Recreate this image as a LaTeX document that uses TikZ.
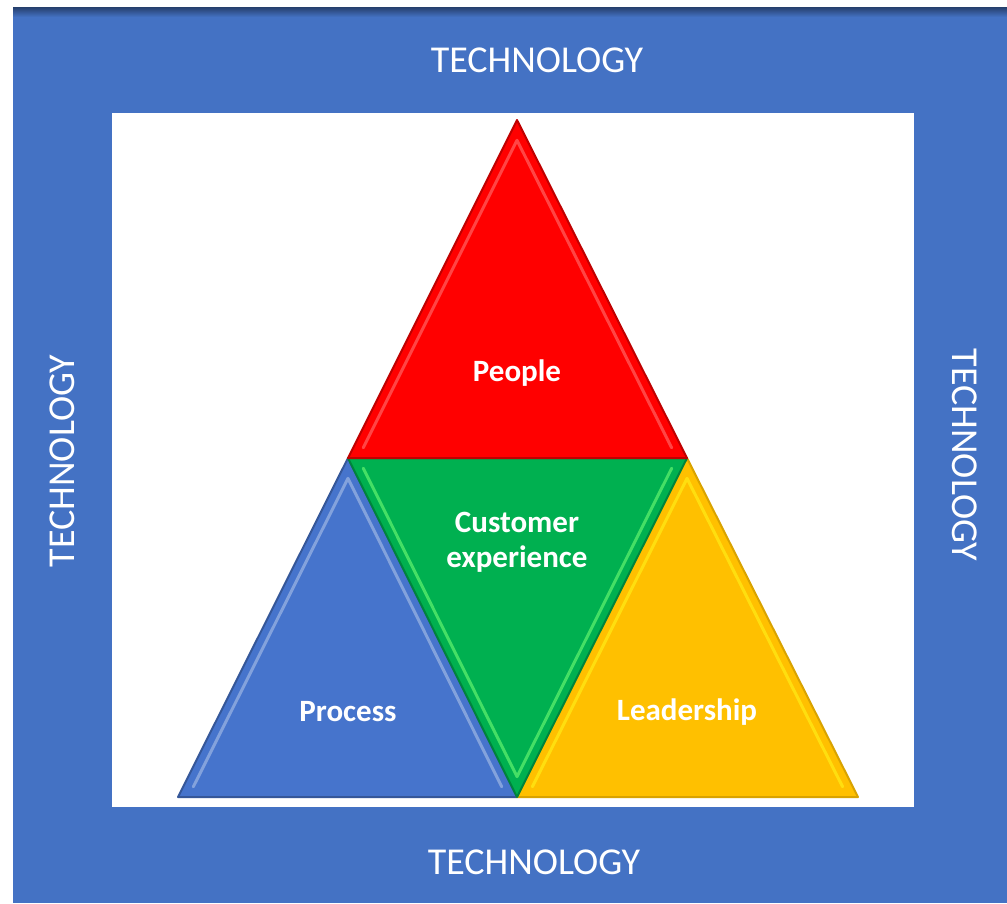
\documentclass[tikz,border=0pt]{standalone}
\usepackage{fontspec}
\setmainfont{Carlito}
\usetikzlibrary{calc}
\definecolor{frameblue}{HTML}{4472C4}
\definecolor{pplred}{HTML}{FF0000}
\definecolor{cxgreen}{HTML}{00B050}
\definecolor{procblue}{HTML}{4674CC}
\definecolor{leadyellow}{HTML}{FFC000}
\tikzstyle{tech} = [text=white, inner sep=0pt, font=\fontsize{38}{38}\selectfont]
\tikzstyle{facet} = [text=white, align=center, inner sep=0pt, font=\bfseries\fontsize{31}{35}\selectfont]
\tikzstyle{rim} = [line width=2pt, line join=round]
\tikzstyle{gleam} = [line width=3pt, line join=round, line cap=round, opacity=.6]

\begin{document}
\begin{tikzpicture}[x=1pt,y=-1pt]
\useasboundingbox (0,0) rectangle (1007,903);
\fill[frameblue] (13,7) rectangle (1007,903);
\shade[top color=frameblue!55!black, bottom color=frameblue] (13,7) rectangle (1007,17);
\fill[white] (112,113) rectangle (914,807);

\coordinate (top) at (517,120);
\coordinate (ml) at (348,458);
\coordinate (mr) at (687,458);
\coordinate (bl) at (178,797);
\coordinate (bm) at (517,797);
\coordinate (br) at (858,797);

% process
\coordinate (cb) at (barycentric cs:ml=1,bl=1,bm=1);
\fill[procblue] (ml) -- (bl) -- (bm) -- cycle;
\draw[rim, procblue!75!black] (ml) -- (bl) -- (bm) -- cycle;
\draw[gleam, procblue!45!white] ($(bl)!.09!(cb)$) -- ($(ml)!.09!(cb)$) -- ($(bm)!.09!(cb)$);
% leadership
\coordinate (cy) at (barycentric cs:mr=1,bm=1,br=1);
\fill[leadyellow] (mr) -- (bm) -- (br) -- cycle;
\draw[rim, leadyellow!85!black] (mr) -- (bm) -- (br) -- cycle;
\draw[gleam, yellow!90!white] ($(bm)!.09!(cy)$) -- ($(mr)!.09!(cy)$) -- ($(br)!.09!(cy)$);
% customer experience
\coordinate (cg) at (barycentric cs:ml=1,mr=1,bm=1);
\fill[cxgreen] (ml) -- (mr) -- (bm) -- cycle;
\draw[rim, cxgreen!75!black] (ml) -- (mr) -- (bm) -- cycle;
\draw[gleam, green!55!white] ($(ml)!.09!(cg)$) -- ($(bm)!.09!(cg)$) -- ($(mr)!.09!(cg)$);
% people
\coordinate (cr) at (barycentric cs:top=1,ml=1,mr=1);
\fill[pplred] (top) -- (ml) -- (mr) -- cycle;
\draw[rim, pplred!75!black] (top) -- (ml) -- (mr) -- cycle;
\draw[gleam, pplred!55!white] ($(ml)!.09!(cr)$) -- ($(top)!.09!(cr)$) -- ($(mr)!.09!(cr)$);

\node[facet] (people) at (517,373) {People};
\node[facet] (custexp) at (517,542) {Customer\\experience};
\node[facet] (process) at (348,712) {Process};
\node[facet] (leader) at (687,712) {Leadership};

\node[tech] (techtop) at (537,60) {TECHNOLOGY};
\node[tech] (techbot) at (534,862) {TECHNOLOGY};
\node[tech, rotate=90] (techleft) at (62,461) {TECHNOLOGY};
\node[tech, rotate=-90] (techright) at (965,455) {TECHNOLOGY};
\end{tikzpicture}
\end{document}
